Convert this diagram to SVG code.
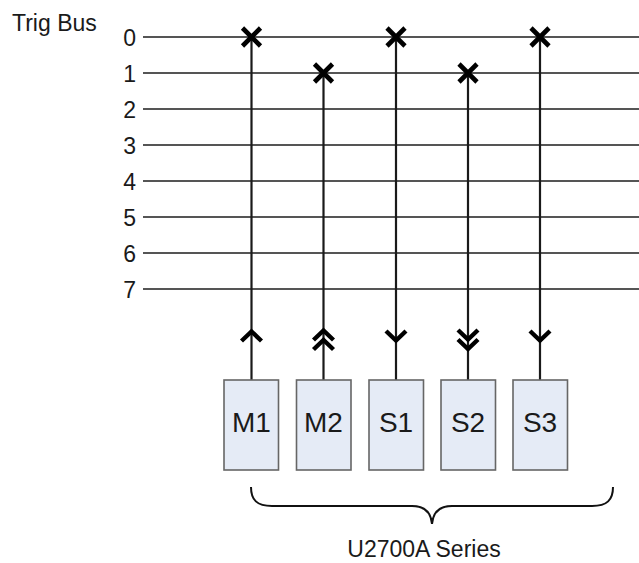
<svg xmlns="http://www.w3.org/2000/svg" width="639" height="563" viewBox="0 0 639 563">
<style>
text{font-family:"Liberation Sans",Arial,sans-serif;fill:#1a1a1a}
.lbl{font-size:23px}
.num{font-size:23px;text-anchor:end}
.box rect{fill:#e5ebf6;stroke:#666;stroke-width:1.6}
.box text{font-size:28px;text-anchor:middle}
.bus{stroke:#555;stroke-width:2}
.vl{stroke:#1a1a1a;stroke-width:2.2;fill:none}
.x{stroke:#000;stroke-width:4.6;fill:none}
.ch{stroke:#000;stroke-width:4.4;fill:none;stroke-linejoin:miter}
</style>
<rect width="639" height="563" fill="#fff"/>
<g id="trigbus">
<text class="lbl" x="12" y="31">Trig Bus</text>
<g class="bus">
<line x1="143" y1="37" x2="639" y2="37"/>
<line x1="143" y1="73" x2="639" y2="73"/>
<line x1="143" y1="109" x2="639" y2="109"/>
<line x1="143" y1="145" x2="639" y2="145"/>
<line x1="143" y1="181" x2="639" y2="181"/>
<line x1="143" y1="217" x2="639" y2="217"/>
<line x1="143" y1="253" x2="639" y2="253"/>
<line x1="143" y1="289" x2="639" y2="289"/>
</g>
<text class="num" x="136" y="45.5">0</text>
<text class="num" x="136" y="81.5">1</text>
<text class="num" x="136" y="117.5">2</text>
<text class="num" x="136" y="153.5">3</text>
<text class="num" x="136" y="189.5">4</text>
<text class="num" x="136" y="225.5">5</text>
<text class="num" x="136" y="261.5">6</text>
<text class="num" x="136" y="297.5">7</text>
</g>
<g id="connectors">
<line class="vl" x1="251.5" y1="37" x2="251.5" y2="380"/>
<line class="vl" x1="323.5" y1="73" x2="323.5" y2="380"/>
<line class="vl" x1="396" y1="37" x2="396" y2="380"/>
<line class="vl" x1="468" y1="73" x2="468" y2="380"/>
<line class="vl" x1="540" y1="37" x2="540" y2="380"/>
<path class="x" d="M242.5 28l18 18M260.5 28l-18 18"/>
<path class="x" d="M314.5 64l18 18M332.5 64l-18 18"/>
<path class="x" d="M387 28l18 18M405 28l-18 18"/>
<path class="x" d="M459 64l18 18M477 64l-18 18"/>
<path class="x" d="M531 28l18 18M549 28l-18 18"/>
<path class="ch" d="M241.5 341l10-9.5 10 9.5"/>
<path class="ch" d="M313.5 340l10-9.5 10 9.5M313.5 349.5l10-9.5 10 9.5"/>
<path class="ch" d="M386 331l10 9.5 10-9.5"/>
<path class="ch" d="M458 330l10 9.5 10-9.5M458 339.5l10 9.5 10-9.5"/>
<path class="ch" d="M530 331l10 9.5 10-9.5"/>
</g>
<g id="M1" class="box"><rect x="224" y="380" width="54.5" height="90"/><text x="251.5" y="432">M1</text></g>
<g id="M2" class="box"><rect x="296.5" y="380" width="54.5" height="90"/><text x="323.5" y="432">M2</text></g>
<g id="S1" class="box"><rect x="369" y="380" width="54.5" height="90"/><text x="396" y="432">S1</text></g>
<g id="S2" class="box"><rect x="441" y="380" width="54.5" height="90"/><text x="468" y="432">S2</text></g>
<g id="S3" class="box"><rect x="513" y="380" width="54.5" height="90"/><text x="540" y="432">S3</text></g>
<g id="series">
<path d="M251 487C251 500 257 506 272 506L412 506C425 506 431 512 432 524C433 512 439 506 452 506L592 506C607 506 613 500 613 487" fill="none" stroke="#111" stroke-width="2"/>
<text class="lbl" x="424" y="557" text-anchor="middle">U2700A Series</text>
</g>
</svg>
